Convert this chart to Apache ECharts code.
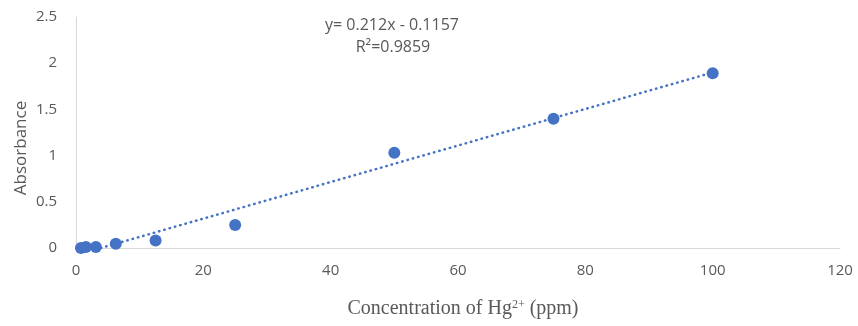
<!DOCTYPE html>
<html><head><meta charset="utf-8">
<script src="https://cdn.jsdelivr.net/npm/echarts@6/dist/echarts.min.js"></script>
<style>html,body{margin:0;padding:0;background:#fff}#c{width:858px;height:326px}</style>
</head><body><div id="c"></div>
<script>
const concentration = [0.78, 1.56, 3.125, 6.25, 12.5, 25, 50, 75, 100];
const absorbance = [0.0, 0.01, 0.01, 0.045, 0.08, 0.25, 1.03, 1.40, 1.89];
const trendX = [3.9, 100];
const trendY = [0.0, 1.9];
const yTicks = ['0', '0.5', '1', '1.5', '2', '2.5'];
const equationText = 'y= 0.212x - 0.1157';
const r2Text = 'R²=0.9859';

const chart = echarts.init(document.getElementById('c'), null, {renderer: 'canvas'});
const pts = concentration.map((x, i) => [x, absorbance[i]]);
const trend = trendX.map((x, i) => [x, trendY[i]]);
const blue = '#4472C4';
const gray = '#595959';
const uiFont = '"Open Sans", "Noto Sans", sans-serif';

chart.setOption({
  animation: false,
  grid: {left: 76, right: 18, top: 17, bottom: 78, containLabel: false},
  xAxis: {
    type: 'value', min: 0, max: 120, interval: 20,
    axisLine: {show: true, lineStyle: {color: '#d9d9d9', width: 1}},
    axisTick: {show: false},
    splitLine: {show: false},
    axisLabel: {color: gray, fontSize: 15, fontFamily: uiFont, margin: 15}
  },
  yAxis: {
    type: 'value', min: 0, max: 2.5, interval: 0.5,
    axisLine: {show: true, lineStyle: {color: '#d9d9d9', width: 1}},
    axisTick: {show: false},
    splitLine: {show: false},
    axisLabel: {color: gray, fontSize: 15, fontFamily: uiFont, margin: 19,
      formatter: (v) => yTicks[Math.round(v / 0.5)]}
  },
  graphic: [
    {type: 'text', style: {text: equationText, x: 392, y: 25, align: 'center', verticalAlign: 'middle', fill: gray, font: '16px ' + uiFont}},
    {type: 'text', style: {text: r2Text, x: 393, y: 47, align: 'center', verticalAlign: 'middle', fill: gray, font: '16px ' + uiFont}},
    {type: 'text', rotation: Math.PI / 2, x: 21, y: 148, style: {text: 'Absorbance', align: 'center', verticalAlign: 'middle', fill: gray, font: '17px ' + uiFont}},
    {type: 'text', x: 463, y: 309, style: {
      text: 'Concentration of Hg{sup|2+} (ppm)', align: 'center', verticalAlign: 'middle',
      fill: gray, font: '20px "Liberation Serif", serif',
      rich: {sup: {fontSize: 12, fontFamily: '"Liberation Serif", serif', fill: gray, verticalAlign: 'top', padding: [0, 0, 9, 0]}}
    }}
  ],
  series: [
    {type: 'line', data: trend, showSymbol: false, symbol: 'none', silent: true,
      lineStyle: {color: blue, width: 2.5, type: [0.5, 5], cap: 'round', opacity: 1}, z: 1},
    {type: 'scatter', data: pts, symbol: 'circle', symbolSize: 12,
      itemStyle: {color: blue, opacity: 1}, z: 2}
  ]
});
</script></body></html>
